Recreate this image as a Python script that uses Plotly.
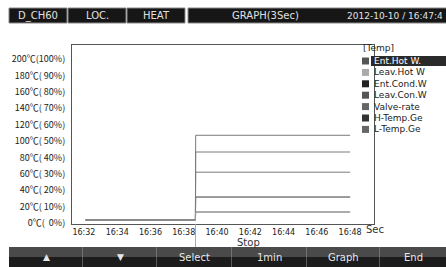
import plotly.graph_objects as go

W, H = 446, 267
L, R, T, B = 72, 72, 45, 43
PW, PH = W - L - R, H - T - B

def px(x):
    return (x - L) / PW

def py(y):
    return (H - B - y) / PH

# ---- data ----
series_names = ["Ent.Hot W.", "Leav.Hot W", "Ent.Cond.W", "Leav.Con.W",
                "Valve-rate", "H-Temp.Ge", "L-Temp.Ge"]
legend_colors = ["#555555", "#aaaaaa", "#222222", "#555555", "#666666", "#333333", "#666666"]
line_colors = ["#7a7a7a", "#7a7a7a", "#7a7a7a", "#7a7a7a", "#7a7a7a", "#7a7a7a", "#9a9a9a"]
times = ["2012-10-10 16:32:06", "2012-10-10 16:38:42",
         "2012-10-10 16:38:43", "2012-10-10 16:48:00"]
values_before = [3.7, 3.7, 3.7, 3.7, 3.7, 3.7, 3.7]
values_after = [107.0, 86.6, 62.0, 31.7, 13.4, 31.7, 13.4]

tick_vals = ["2012-10-10 16:%02d:00" % m for m in range(32, 49, 2)]
tick_text = ["16:%02d" % m for m in range(32, 49, 2)]
y_vals = list(range(0, 201, 20))
y_text = ["0℃(  0%)", "20℃( 10%)", "40℃( 20%)", "60℃( 30%)", "80℃( 40%)",
          "100℃( 50%)", "120℃( 60%)", "140℃( 70%)", "160℃( 80%)",
          "180℃( 90%)", "200℃(100%)"]
header_items = ["D_CH60", "LOC.", "HEAT", "GRAPH(3Sec)"]
button_labels = ["▲", "▼", "Select", "1min", "Graph", "End"]

FONT = "DejaVu Sans"
CJK = "Noto Sans CJK KR"

fig = go.Figure()
for i, name in enumerate(series_names):
    v0, v1 = values_before[i], values_after[i]
    fig.add_trace(go.Scatter(
        x=times, y=[v0, v0, v1, v1], mode="lines", name=name,
        line=dict(color=line_colors[i], width=1), showlegend=False,
        hoverinfo="skip"))

shapes = []
ann = []

# header
hdr_boxes = [(9, 67), (68, 126), (127, 185), (188, 460)]
for (x0, x1), txt in zip(hdr_boxes, header_items):
    shapes.append(dict(type="rect", xref="paper", yref="paper",
                       x0=px(x0), x1=px(x1), y0=py(23), y1=py(8),
                       fillcolor="#161616", line=dict(color="#888888", width=1)))
    cx = (x0 + x1) / 2 if txt != "GRAPH(3Sec)" else 265
    ann.append(dict(text=txt, xref="paper", yref="paper", x=px(cx), y=py(15.5),
                    showarrow=False, xanchor="center", yanchor="middle",
                    font=dict(family=FONT, size=10, color="#e0e0e0")))
ann.append(dict(text="2012-10-10 / 16:47:4", xref="paper", yref="paper",
                x=px(445), y=py(15.5), showarrow=False, xanchor="right",
                yanchor="middle", font=dict(family=FONT, size=9, color="#e0e0e0")))

# bottom buttons
btn_edges = [9, 83, 157, 232, 307, 380, 460]
for i, lab in enumerate(button_labels):
    x0, x1 = btn_edges[i], btn_edges[i + 1]
    shapes.append(dict(type="rect", xref="paper", yref="paper",
                       x0=px(x0), x1=px(x1), y0=py(257), y1=py(247),
                       fillcolor="#4a4a4a", line=dict(width=0)))
    shapes.append(dict(type="rect", xref="paper", yref="paper",
                       x0=px(x0), x1=px(x1), y0=py(268), y1=py(257),
                       fillcolor="#1c1c1c", line=dict(width=0)))
    shapes.append(dict(type="line", xref="paper", yref="paper",
                       x0=px(x1), x1=px(x1), y0=py(268), y1=py(247),
                       line=dict(color="#999999", width=1)))
    ann.append(dict(text=lab, xref="paper", yref="paper", x=px((x0 + min(x1, 446)) / 2),
                    y=py(257), showarrow=False, xanchor="center", yanchor="middle",
                    font=dict(family=FONT, size=10 if len(lab) > 1 else 9, color="#e8e8e8")))

# cursor line & Stop
shapes.append(dict(type="line", xref="paper", yref="paper",
                   x0=px(195.5), x1=px(195.5), y0=py(224), y1=py(247),
                   line=dict(color="#aaaaaa", width=1)))
ann.append(dict(text="Stop", xref="paper", yref="paper", x=px(248), y=py(242),
                showarrow=False, xanchor="center", yanchor="middle",
                font=dict(family=FONT, size=10, color="#333333")))
ann.append(dict(text="Sec", xref="paper", yref="paper", x=px(364), y=py(229),
                showarrow=False, xanchor="left", yanchor="middle",
                font=dict(family=FONT, size=10, color="#333333")))

# legend
ann.append(dict(text="[Temp]", xref="paper", yref="paper", x=px(361), y=py(48.5),
                showarrow=False, xanchor="left", yanchor="middle",
                font=dict(family=FONT, size=9, color="#222222")))
shapes.append(dict(type="rect", xref="paper", yref="paper",
                   x0=px(371), x1=px(450), y0=py(66), y1=py(56),
                   fillcolor="#2a2a2a", line=dict(width=0)))
for i, name in enumerate(series_names):
    yc = 61 + i * 11.4
    shapes.append(dict(type="rect", xref="paper", yref="paper",
                       x0=px(362), x1=px(369), y0=py(yc + 3.5), y1=py(yc - 3.5),
                       fillcolor=legend_colors[i], line=dict(width=0)))
    ann.append(dict(text=name, xref="paper", yref="paper", x=px(372), y=py(yc),
                    showarrow=False, xanchor="left", yanchor="middle",
                    font=dict(family=FONT, size=9,
                              color="#ffffff" if i == 0 else "#222222")))

fig.update_layout(
    width=W, height=H, margin=dict(l=L, r=R, t=T, b=B),
    paper_bgcolor="white", plot_bgcolor="white",
    shapes=shapes, annotations=ann, showlegend=False,
    xaxis=dict(type="date", range=["2012-10-10 16:31:17", "2012-10-10 16:49:26"],
               tickvals=tick_vals, ticktext=tick_text, showgrid=False,
               zeroline=False, showline=True, linecolor="#555555", linewidth=1,
               mirror=True, ticks="", tickfont=dict(family=FONT, size=8, color="#222222")),
    yaxis=dict(range=[-1.2, 217.1], tickvals=y_vals, ticktext=y_text,
               showgrid=False, zeroline=False, showline=True, linecolor="#555555",
               linewidth=1, mirror=True, ticks="", ticklabelstandoff=4,
               tickfont=dict(family=CJK, size=9, color="#222222")),
)

fig.write_html("out.html", config={"displayModeBar": False},
               post_script="document.body.style.margin='0';document.body.style.overflow='hidden';")
